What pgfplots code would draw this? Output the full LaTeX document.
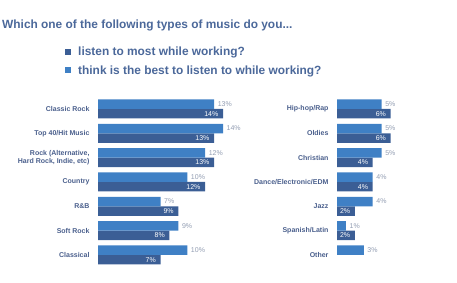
\documentclass[border=0pt]{standalone}
\usepackage{pgfplots}
\pgfplotsset{compat=1.18}
\usepackage{fontspec}
\setmainfont{Liberation Sans}
\definecolor{lightbar}{HTML}{3F80C5}
\definecolor{darkbar}{HTML}{3B5E95}
\definecolor{cattext}{HTML}{4A5F8C}
\definecolor{titletext}{HTML}{4B689A}
\definecolor{valtext}{HTML}{929DB2}
\pgfplotsset{
  mybars/.style={
    xbar, scale only axis, clip=false,
    width=125pt, height=170.3pt,
    xmin=0, xmax=14, ymin=-0.5, ymax=6.5, y dir=reverse,
    hide x axis,
    y axis line style={draw=none},
    ytick={0,...,6},
    major tick length=0pt,
    ytick style={draw=none},
    yticklabel style={font=\bfseries\fontsize{7}{8}\selectfont, text=cattext, align=right, xshift=-5pt},
    bar width=9.5pt,
    nodes near coords={\pgfmathprintnumber{\pgfplotspointmeta}\%},
    /pgf/number format/assume math mode=true,
  },
  lightser/.style={fill=lightbar, draw=none, bar shift=4.75pt,
    every node near coord/.append style={anchor=west, font=\fontsize{7}{8}\selectfont, text=valtext, inner sep=1pt, xshift=2.5pt}},
  darkser/.style={fill=darkbar, draw=none, bar shift=-4.75pt,
    every node near coord/.append style={anchor=east, font=\fontsize{7}{8}\selectfont, text=white, xshift=-3.5pt, inner sep=1pt}},
}
\begin{document}
\begin{tikzpicture}
\useasboundingbox (0,0) rectangle (457pt,-283pt);
\node[anchor=west, font=\bfseries\fontsize{11.9}{13}\selectfont, text=titletext, inner sep=0pt] at (2pt,-25pt) {Which one of the following types of music do you...};
\begin{axis}[mybars, at={(98pt,-96.8pt)}, anchor=north west,
  yticklabels={Classic Rock, Top 40/Hit Music, {Rock (Alternative,\\Hard Rock, Indie, etc)}, Country, R\&B, Soft Rock, Classical},
  legend style={at={(axis description cs:-0.264,1.292)}, anchor=north west, draw=none, fill=none,
    font=\bfseries\fontsize{11.9}{13}\selectfont, text=titletext, row sep=8pt, inner sep=0pt,
    nodes={inner sep=0pt}},
  legend cell align=left,
  legend image code/.code={\fill[#1] (0pt,-3pt) rectangle (6pt,3pt); \path (13pt,0pt);},
]
\addplot[darkser] coordinates {(14,0) (13,1) (13,2) (12,3) (9,4) (8,5) (7,6)};
\addlegendentry{listen to most while working?}
\addplot[lightser] coordinates {(13,0) (14,1) (12,2) (10,3) (7,4) (9,5) (10,6)};
\addlegendentry{think is the best to listen to while working?}
\end{axis}
\begin{axis}[mybars, at={(337pt,-96.8pt)}, anchor=north west, width=111.6pt, xmax=12.5,
  yticklabels={Hip-hop/Rap, Oldies, Christian, Dance/Electronic/EDM, Jazz, Spanish/Latin, Other},
]
\addplot[darkser] coordinates {(6,0) (6,1) (4,2) (4,3) (2,4) (2,5)};
\addplot[lightser] coordinates {(5,0) (5,1) (5,2) (4,3) (4,4) (1,5) (3,6)};
\end{axis}
\end{tikzpicture}
\end{document}
